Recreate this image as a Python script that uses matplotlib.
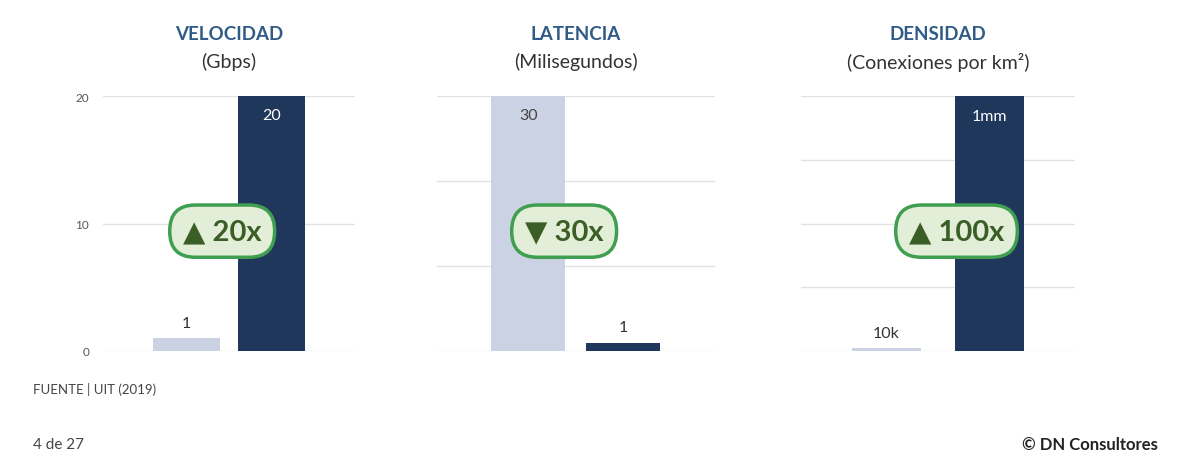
import matplotlib
matplotlib.use("Agg")
import matplotlib.pyplot as plt

plt.rcParams['font.family'] = ['Lato', 'DejaVu Sans']

# datos
titulos = ['VELOCIDAD', 'LATENCIA', 'DENSIDAD']
unidades = ['(Gbps)', '(Milisegundos)', '(Conexiones por km²)']
valores_4g = [1, 30, 10000]
valores_5g = [20, 1, 1000000]
etiquetas_4g = ['1', '30', '10k']
etiquetas_5g = ['20', '1', '1mm']
maximos = [20, 30, 1000000]
pasos = [10, 10, 250000]
insignias = ['▲ 20x', '▼ 30x', '▲ 100x']
insignia_x = [0.42, 0.38, 0.68]
mostrar_ticks = [True, False, False]

claro = '#cbd2e3'
oscuro = '#1f375b'
azul_titulo = '#2f5b86'

fig = plt.figure(figsize=(12, 4.64), dpi=100)

# posicion de cada panel (px) y ancho de barra
paneles = [(103, 252, 0.79, -0.98, 1.98),
           (437, 278, 0.78, -0.96, 1.97),
           (801, 274, 0.67, -0.83, 1.83)]

for i in range(3):
    left, width, bw, x0, x1 = paneles[i]
    ax = fig.add_axes([left / 1200, 112 / 464, width / 1200, 255 / 464])
    ax.bar([0], [valores_4g[i]], width=bw, color=claro, zorder=2)
    ax.bar([1], [valores_5g[i]], width=bw, color=oscuro, zorder=2)
    ax.set_xlim(x0, x1)
    ax.set_ylim(0, maximos[i])
    ticks = [k * pasos[i] for k in range(int(maximos[i] / pasos[i]) + 1)]
    ax.set_yticks(ticks)
    ax.grid(axis='y', color='#e2e2e2', linewidth=1, zorder=0)
    for s in ax.spines.values():
        s.set_visible(False)
    ax.set_xticks([])
    ax.tick_params(axis='y', length=0, pad=10, labelsize=8.5, labelcolor='#555555')
    if not mostrar_ticks[i]:
        ax.set_yticklabels([])

    # etiquetas de valor
    for x, v, lab in [(0, valores_4g[i], etiquetas_4g[i]), (1, valores_5g[i], etiquetas_5g[i])]:
        if v > maximos[i] * 0.5:
            col = 'white' if x == 1 else '#444444'
            ax.annotate(lab, (x, v), xytext=(0, -9), textcoords='offset points',
                        ha='center', va='top', fontsize=11.5, color=col)
        else:
            ax.annotate(lab, (x, v), xytext=(0, 6), textcoords='offset points',
                        ha='center', va='bottom', fontsize=11.5, color='#333333')

    # insignia
    ax.text(insignia_x[i], maximos[i] * 0.47, insignias[i], ha='center', va='center',
            fontsize=21, fontweight='bold', color='#3b5e27', zorder=5,
            bbox=dict(boxstyle='round,pad=0.45,rounding_size=0.88',
                      fc='#e3eed8', ec='#3f9e4f', lw=2.5))

    cx = (left + width / 2) / 1200
    fig.text(cx, 1 - 35 / 464, titulos[i], ha='center', va='center',
             fontsize=13.5, fontweight='bold', color=azul_titulo)
    fig.text(cx, 1 - 62 / 464, unidades[i], ha='center', va='center',
             fontsize=14, color='#333333')

fig.text(33 / 1200, 1 - 390 / 464, 'FUENTE | UIT (2019)', ha='left', va='center',
         fontsize=9.5, color='#444444')
fig.text(33 / 1200, 1 - 445 / 464, '4 de 27', ha='left', va='center',
         fontsize=11, color='#444444')
fig.text(1158 / 1200, 1 - 445 / 464, '© DN Consultores', ha='right', va='center',
         fontsize=12, fontweight='bold', color='#222222')

fig.savefig('out.png', dpi=100)
